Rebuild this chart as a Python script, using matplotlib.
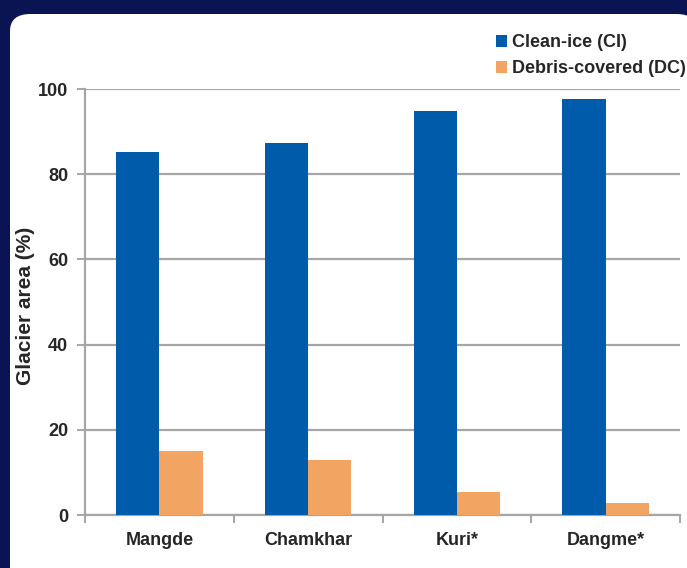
import matplotlib.pyplot as plt
import numpy as np
from matplotlib.patches import FancyBboxPatch

plt.rcParams['font.family'] = ['Liberation Sans', 'DejaVu Sans']

glaciers = ["Mangde", "Chamkhar", "Kuri*", "Dangme*"]
clean_ice = [85.2, 87.3, 94.8, 97.6]
debris = [15.0, 12.9, 5.4, 2.8]

blue = '#005BAA'
orange = '#F2A463'
navy = '#0A1452'
grey = '#A6A6A6'
txt = '#262626'

fig = plt.figure(figsize=(6.87, 5.68), dpi=100, facecolor=navy)

# white rounded panel behind everything
panel = FancyBboxPatch((10/687, -0.05), 1.0, 1 - 14/568 + 0.05,
                       boxstyle="round,pad=0,rounding_size=0.03",
                       transform=fig.transFigure, facecolor='white',
                       edgecolor='none', zorder=-5)
fig.patches.append(panel)

ax = fig.add_axes([85/687, 1 - 515/568, 595/687, 426/568])
ax.set_facecolor('none')
ax.set_zorder(2)

x = np.arange(len(glaciers))
w = 0.29
ax.bar(x - w/2, clean_ice, w, color=blue, label='Clean-ice (CI)', zorder=3)
ax.bar(x + w/2, debris, w, color=orange, label='Debris-covered (DC)', zorder=3)

ax.set_xlim(-0.5, len(glaciers) - 0.5)
ax.set_ylim(0, 100)
ax.set_yticks(range(0, 101, 20))
ax.yaxis.grid(True, color=grey, lw=1.6, zorder=0)
ax.set_axisbelow(True)

for s in ['top', 'right']:
    ax.spines[s].set_visible(False)
for s in ['left', 'bottom']:
    ax.spines[s].set_color(grey)
    ax.spines[s].set_linewidth(1.6)

ax.set_xticks(x)
ax.set_xticklabels(glaciers, fontsize=13, color=txt, fontweight='bold')
ax.tick_params(axis='x', length=0, pad=12)
ax.set_xticks(np.arange(-0.5, len(glaciers), 1.0), minor=True)
ax.tick_params(axis='x', which='minor', length=6, color=grey, width=1.4, direction='out')
ax.tick_params(axis='y', labelsize=13, labelcolor=txt, length=6, color=grey, width=1.4, pad=6)
for lab in ax.get_yticklabels():
    lab.set_fontweight('bold')

ax.set_ylabel('Glacier area (%)', fontsize=15, fontweight='bold', color=txt)
ax.yaxis.set_label_coords(-50/595, 0.49)

leg = fig.legend(loc='upper left', bbox_to_anchor=(489/687, 1 - 27/568),
                 frameon=False, handlelength=0.6, handleheight=0.6,
                 handletextpad=0.3, labelspacing=0.5, borderaxespad=0,
                 prop={'weight': 'bold', 'size': 13})
for t in leg.get_texts():
    t.set_color(txt)

fig.savefig('out.png', dpi=100, facecolor=navy)
